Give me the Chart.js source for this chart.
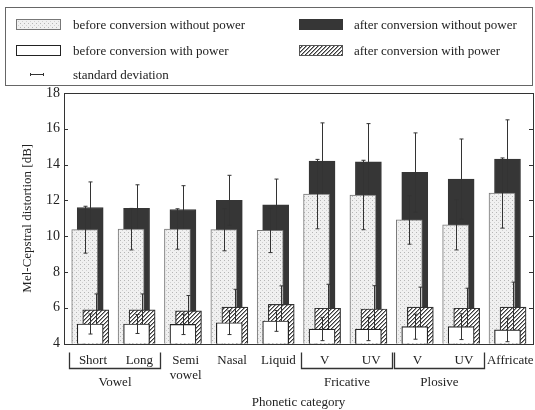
<!DOCTYPE html>
<html>
<head>
<meta charset="utf-8">
<script src="https://cdn.jsdelivr.net/npm/chart.js@4.4.1/dist/chart.umd.min.js"></script>
<style>
  body { margin: 0; background: #fff; font-family: 'Liberation Serif', serif; color: #222; }
  #wrap { position: relative; width: 535px; height: 410px; overflow: hidden; }
  #chart { position: absolute; left: 0; top: 0; }
  #legendBox { position: absolute; left: 5px; top: 7px; width: 528px; height: 79px; border: 1px solid #666; box-sizing: border-box; }
  .lg { position: absolute; font-size: 13px; line-height: 15px; white-space: nowrap; }
  .sw { position: absolute; }
</style>
</head>
<body>
<div id="wrap">
  <canvas id="chart" width="535" height="410"></canvas>
  <div id="legendBox"></div>
</div>
<script>
// categories and values (dB)
const categories = ['Short', 'Long', ['Semi', 'vowel'], 'Nasal', 'Liquid', 'V', 'UV', 'V', 'UV', 'Affricate'];
const groups = [
  { name: 'Vowel', from: 0, to: 1 },
  { name: 'Fricative', from: 5, to: 6 },
  { name: 'Plosive', from: 7, to: 8 }
];
const yTicks = [4, 6, 8, 10, 12, 14, 16, 18];

const beforeNoPower   = [10.36, 10.39, 10.40, 10.36, 10.32, 12.35, 12.30, 10.91, 10.63, 12.41];
const beforeNoPowerSd = [1.31, 1.16, 1.13, 1.18, 1.24, 1.94, 1.94, 1.36, 1.40, 1.96];
const afterNoPower    = [11.60, 11.55, 11.49, 12.00, 11.75, 14.20, 14.15, 13.56, 13.19, 14.31];
const afterNoPowerSd  = [1.43, 1.32, 1.33, 1.40, 1.44, 2.13, 2.14, 2.21, 2.24, 2.19];
const beforePower     = [5.09, 5.09, 5.07, 5.16, 5.26, 4.81, 4.81, 4.94, 4.94, 4.76];
const beforePowerSd   = [0.56, 0.53, 0.57, 0.66, 0.58, 0.65, 0.65, 0.70, 0.72, 0.66];
const afterPower      = [5.88, 5.88, 5.82, 6.03, 6.19, 5.97, 5.93, 6.03, 5.97, 6.03];
const afterPowerSd    = [0.89, 0.89, 0.86, 1.00, 1.03, 1.34, 1.30, 1.12, 1.12, 1.40];

const FONT = "'Liberation Serif', serif";
const INK = '#222';

// fill patterns like the scanned figure
function makePattern(kind) {
  const c = document.createElement('canvas');
  const g = c.getContext('2d');
  if (kind === 'dots') {
    c.width = 4; c.height = 4;
    g.fillStyle = '#f0f0f0'; g.fillRect(0, 0, 4, 4);
    g.fillStyle = '#b5b5b5'; g.fillRect(0, 0, 1, 1);
    g.fillStyle = '#d0d0d0'; g.fillRect(2, 2, 1, 1);
  } else {
    c.width = 4; c.height = 4;
    g.fillStyle = '#fff'; g.fillRect(0, 0, 4, 4);
    g.fillStyle = '#3a3a3a';
    for (let i = 0; i < 4; i++) g.fillRect(i, 3 - i, 1, 1);
    g.fillStyle = '#9a9a9a';
    for (let i = 0; i < 4; i++) g.fillRect((i + 1) % 4, 3 - i, 1, 1);
  }
  return g.createPattern(c, 'repeat');
}
const dotFill = makePattern('dots');
const hatchFill = makePattern('hatch');

function points(values, shift) {
  return values.map((v, i) => ({ x: i + shift, y: v }));
}

const datasets = [
  { label: 'before conversion with power', data: points(beforePower, 0), sd: beforePowerSd,
    backgroundColor: '#fff', borderColor: '#222', borderWidth: 1.2, order: 1 },
  { label: 'after conversion with power', data: points(afterPower, 0.12), sd: afterPowerSd,
    backgroundColor: hatchFill, borderColor: '#333', borderWidth: 1.2, order: 2 },
  { label: 'before conversion without power', data: points(beforeNoPower, -0.118), sd: beforeNoPowerSd,
    backgroundColor: dotFill, borderColor: '#777', borderWidth: 1, order: 3 },
  { label: 'after conversion without power', data: points(afterNoPower, 0), sd: afterNoPowerSd,
    backgroundColor: '#363636', borderColor: '#363636', borderWidth: 1, order: 4 }
];
datasets.forEach(d => { d.barThickness = 26; d.borderSkipped = 'start'; d.grouped = false; });

// standard deviation whiskers, drawn right after each dataset so overlaps match
const errorBars = {
  id: 'errorBars',
  afterDatasetDraw(chart, args) {
    const ds = chart.data.datasets[args.index];
    const y = chart.scales.y;
    const ctx = chart.ctx;
    const area = chart.chartArea;
    ctx.save();
    ctx.beginPath();
    ctx.rect(area.left, area.top, area.right - area.left, area.bottom - area.top);
    ctx.clip();
    ctx.strokeStyle = '#333';
    ctx.lineWidth = 1;
    args.meta.data.forEach((bar, i) => {
      const v = ds.data[i].y, s = ds.sd[i];
      const top = y.getPixelForValue(v + s), bot = y.getPixelForValue(v - s);
      const x = Math.round(bar.x) + 0.5;
      ctx.beginPath();
      ctx.moveTo(x, top); ctx.lineTo(x, bot);
      ctx.moveTo(x - 2, top); ctx.lineTo(x + 2, top);
      ctx.moveTo(x - 2, bot); ctx.lineTo(x + 2, bot);
      ctx.stroke();
    });
    ctx.restore();
  }
};

// frame, inward ticks, group brackets
const decorations = {
  id: 'decorations',
  afterDraw(chart) {
    const { ctx, chartArea: a, scales: { x, y } } = chart;
    ctx.save();
    ctx.strokeStyle = '#333';
    ctx.lineWidth = 1;
    ctx.strokeRect(Math.round(a.left) + 0.5, Math.round(a.top) + 0.5,
      Math.round(a.right - a.left), Math.round(a.bottom - a.top));
    ctx.beginPath();
    y.ticks.forEach(t => {
      const py = Math.round(y.getPixelForValue(t.value)) + 0.5;
      ctx.moveTo(a.left, py); ctx.lineTo(a.left + 4, py);
      ctx.moveTo(a.right, py); ctx.lineTo(a.right - 4, py);
    });
    ctx.stroke();

    ctx.lineWidth = 1.3;
    ctx.fillStyle = INK;
    ctx.font = '13px ' + FONT;
    ctx.textAlign = 'center';
    ctx.textBaseline = 'middle';
    const yTop = a.bottom + 9, yBar = a.bottom + 25;
    groups.forEach(gr => {
      const x0 = Math.round(x.getPixelForValue(gr.from - 0.45)) + 0.5;
      const x1 = Math.round(x.getPixelForValue(gr.to + 0.5)) + 0.5;
      ctx.beginPath();
      ctx.moveTo(x0, yTop); ctx.lineTo(x0, yBar); ctx.lineTo(x1, yBar); ctx.lineTo(x1, yTop);
      ctx.stroke();
      ctx.fillText(gr.name, (x0 + x1) / 2, a.bottom + 39);
    });
    ctx.restore();
  }
};

new Chart(document.getElementById('chart'), {
  type: 'bar',
  data: { datasets: datasets },
  options: {
    responsive: false,
    animation: false,
    layout: { padding: { top: 93, right: 2, left: 0, bottom: 0 } },
    plugins: { legend: { display: false }, tooltip: { enabled: false } },
    scales: {
      x: {
        type: 'linear',
        min: -0.565,
        max: 9.55,
        offset: false,
        afterBuildTicks: s => { s.ticks = categories.map((c, i) => ({ value: i + 0.06 })); },
        afterFit: s => { s.height = 66.5; s.paddingLeft = 0; s.paddingRight = 0; },
        ticks: {
          autoSkip: false, maxRotation: 0, padding: 9, color: INK,
          font: { family: FONT, size: 13 },
          callback: v => categories[Math.round(v)]
        },
        grid: { display: false, drawTicks: false },
        border: { display: false },
        title: { display: true, text: 'Phonetic category', color: INK,
          font: { family: FONT, size: 13 }, padding: { top: 0, bottom: 0 } }
      },
      y: {
        min: 4,
        max: 18,
        afterBuildTicks: s => { s.ticks = yTicks.map(v => ({ value: v })); },
        afterFit: s => { s.width = 64; },
        ticks: { padding: 4, color: INK, font: { family: FONT, size: 14 } },
        grid: { display: false, drawTicks: false },
        border: { display: false },
        title: { display: true, text: 'Mel-Cepstral distortion [dB]', color: INK,
          font: { family: FONT, size: 13 }, padding: { top: 20, bottom: 0 } }
      }
    }
  },
  plugins: [errorBars, decorations]
});

// legend box, same fills as the bars
const legendItems = [
  { text: 'before conversion without power', fill: dotFill, stroke: '#777', sx: 16, sw: 45, tx: 73, cy: 25 },
  { text: 'before conversion with power', fill: '#fff', stroke: '#222', sx: 16, sw: 45, tx: 73, cy: 51 },
  { text: 'standard deviation', line: true, sx: 30, sw: 14, tx: 73, cy: 75 },
  { text: 'after conversion without power', fill: '#363636', stroke: '#363636', sx: 299, sw: 44, tx: 354, cy: 25 },
  { text: 'after conversion with power', fill: hatchFill, stroke: '#555', sx: 299, sw: 44, tx: 354, cy: 51 }
];
const wrap = document.getElementById('wrap');
legendItems.forEach(it => {
  const c = document.createElement('canvas');
  c.className = 'sw';
  c.width = it.sw; c.height = 11;
  c.style.left = it.sx + 'px';
  c.style.top = (it.cy - 6) + 'px';
  const g = c.getContext('2d');
  if (it.line) {
    g.strokeStyle = '#333'; g.lineWidth = 1;
    g.beginPath();
    g.moveTo(0, 5.5); g.lineTo(it.sw, 5.5);
    g.moveTo(0.5, 4); g.lineTo(0.5, 7);
    g.moveTo(it.sw - 0.5, 4); g.lineTo(it.sw - 0.5, 7);
    g.stroke();
  } else {
    g.fillStyle = it.fill; g.fillRect(0, 0, it.sw, 11);
    g.strokeStyle = it.stroke; g.lineWidth = 1;
    g.strokeRect(0.5, 0.5, it.sw - 1, 10);
  }
  wrap.appendChild(c);
  const t = document.createElement('div');
  t.className = 'lg';
  t.textContent = it.text;
  t.style.left = it.tx + 'px';
  t.style.top = (it.cy - 8) + 'px';
  wrap.appendChild(t);
});
</script>
</body>
</html>
